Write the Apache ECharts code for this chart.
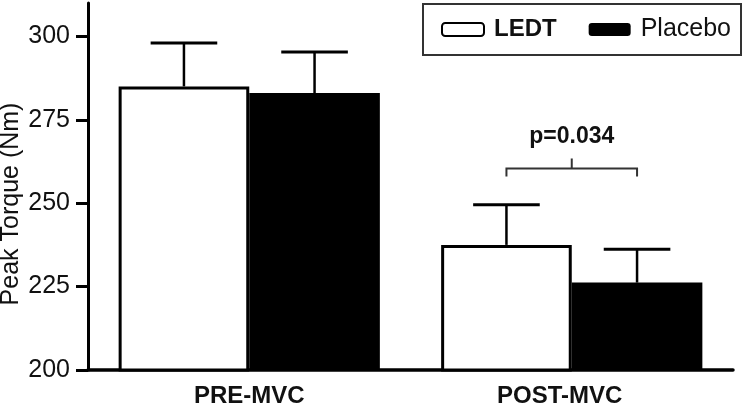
<!DOCTYPE html>
<html>
<head>
<meta charset="utf-8">
<script src="https://cdn.jsdelivr.net/npm/echarts@6/dist/echarts.min.js"></script>
<style>
html,body{margin:0;padding:0;background:#fff;}
#c{width:750px;height:408px;}
</style>
</head>
<body>
<div id="c"></div>
<script>
const categories = ['PRE-MVC', 'POST-MVC'];
const ledtMean = [285, 237.5];
const placeboMean = [283, 226.2];
const ledtSD = [13, 12];
const placeboSD = [12.3, 10];
const yTicks = [200, 225, 250, 275, 300];
const seriesNames = ['LEDT', 'Placebo'];
const yAxisTitle = 'Peak Torque (Nm)';
const sigLabel = 'p=0.034';
const sigCategory = 1;
const sigLevel = 260.4;

const FONT = '"Liberation Sans", Arial, Helvetica, sans-serif';
const GAP = 0.19;

const chart = echarts.init(document.getElementById('c'), null, {renderer: 'canvas'});

function errRender(sign) {
  return function (params, api) {
    const cat = api.value(0);
    const mean = api.value(1);
    const top = api.value(2);
    const catW = api.size([1, 0])[0];
    const group = catW * (1 - GAP);
    const bw = group / 2;
    const base = api.coord([cat, mean]);
    const up = api.coord([cat, top]);
    const x = base[0] + sign * group / 4;
    const half = bw * 0.255;
    return {
      type: 'group',
      children: [
        {type: 'line', shape: {x1: x, y1: base[1], x2: x, y2: up[1]}, style: {stroke: '#000', lineWidth: 2.5}},
        {type: 'line', shape: {x1: x - half, y1: up[1], x2: x + half, y2: up[1]}, style: {stroke: '#000', lineWidth: 3}}
      ]
    };
  };
}

function sigRender(params, api) {
  const cat = api.value(0);
  const lvl = api.value(1);
  const catW = api.size([1, 0])[0];
  const group = catW * (1 - GAP);
  const c = api.coord([cat, lvl]);
  const l = c[0] - group / 4, r = c[0] + group / 4, y = c[1];
  const st = {stroke: '#333', lineWidth: 2};
  return {
    type: 'group',
    children: [
      {type: 'polyline', shape: {points: [[l, y + 8], [l, y], [r, y], [r, y + 8]]}, style: Object.assign({fill: null}, st)},
      {type: 'line', shape: {x1: c[0], y1: y, x2: c[0], y2: y - 10}, style: st},
      {type: 'text', x: c[0], y: y - 32, style: {text: sigLabel, fill: '#111', font: 'bold 23px ' + FONT, textAlign: 'center', textVerticalAlign: 'middle'}}
    ]
  };
}

const option = {
  animation: false,
  backgroundColor: '#fff',
  textStyle: {fontFamily: FONT},
  grid: {left: 88, right: 17, top: 3, bottom: 38},
  legend: {
    left: 423, top: 4,
    orient: 'horizontal',
    padding: [13, 10, 13, 18],
    borderColor: '#333', borderWidth: 2,
    itemWidth: 42, itemHeight: 13, itemGap: 32,
    textStyle: {fontSize: 25, color: '#111', fontFamily: FONT, padding: [0, 0, 0, 5]},
    data: [
      {name: seriesNames[0], textStyle: {fontWeight: 'bold', fontSize: 24}},
      {name: seriesNames[1]}
    ]
  },
  graphic: [{
    type: 'text', x: 11, y: 204, rotation: Math.PI / 2,
    style: {text: yAxisTitle, font: '25px ' + FONT, fill: '#111', textAlign: 'center', textVerticalAlign: 'middle'}
  }],
  xAxis: {
    type: 'category',
    data: categories,
    axisLine: {lineStyle: {color: '#000', width: 3.5}},
    axisTick: {show: false},
    axisLabel: {
      margin: 14,
      color: '#111',
      fontSize: 24, fontWeight: 'bold', fontFamily: FONT,
      formatter: function (v, i) { return i === 1 ? '{b|' + v + '}' : '{a|' + v + '}'; },
      rich: {
        a: {fontSize: 24, fontWeight: 'bold', fontFamily: FONT, color: '#111'},
        b: {fontSize: 24, fontWeight: 'bold', fontFamily: FONT, color: '#111', padding: [0, 24, 0, 0]}
      }
    },
    splitLine: {show: false}
  },
  yAxis: {
    type: 'value',
    min: 200, max: 310, interval: 25,
    axisLine: {show: true, lineStyle: {color: '#000', width: 3}},
    axisTick: {show: true, length: 12, lineStyle: {color: '#000', width: 3}, customValues: yTicks},
    axisLabel: {margin: 18, color: '#111', fontSize: 25, fontFamily: FONT, customValues: yTicks},
    splitLine: {show: false}
  },
  series: [
    {
      name: seriesNames[0], type: 'bar', data: ledtMean,
      barGap: '0%', barCategoryGap: (GAP * 100) + '%',
      itemStyle: {color: '#fff', borderColor: '#000', borderWidth: 3},
      z: 2
    },
    {
      name: seriesNames[1], type: 'bar', data: placeboMean,
      barGap: '0%', barCategoryGap: (GAP * 100) + '%',
      itemStyle: {color: '#000', borderColor: '#000', borderWidth: 0},
      z: 2
    },
    {
      type: 'custom', renderItem: errRender(-1), z: 3,
      data: ledtMean.map((m, i) => [i, m, m + ledtSD[i]]),
      encode: {x: 0, y: [1, 2]}, silent: true
    },
    {
      type: 'custom', renderItem: errRender(1), z: 3,
      data: placeboMean.map((m, i) => [i, m, m + placeboSD[i]]),
      encode: {x: 0, y: [1, 2]}, silent: true
    },
    {
      type: 'custom', renderItem: sigRender, z: 3,
      data: [[sigCategory, sigLevel]],
      encode: {x: 0, y: 1}, silent: true
    }
  ]
};
chart.setOption(option);
</script>
</body>
</html>
